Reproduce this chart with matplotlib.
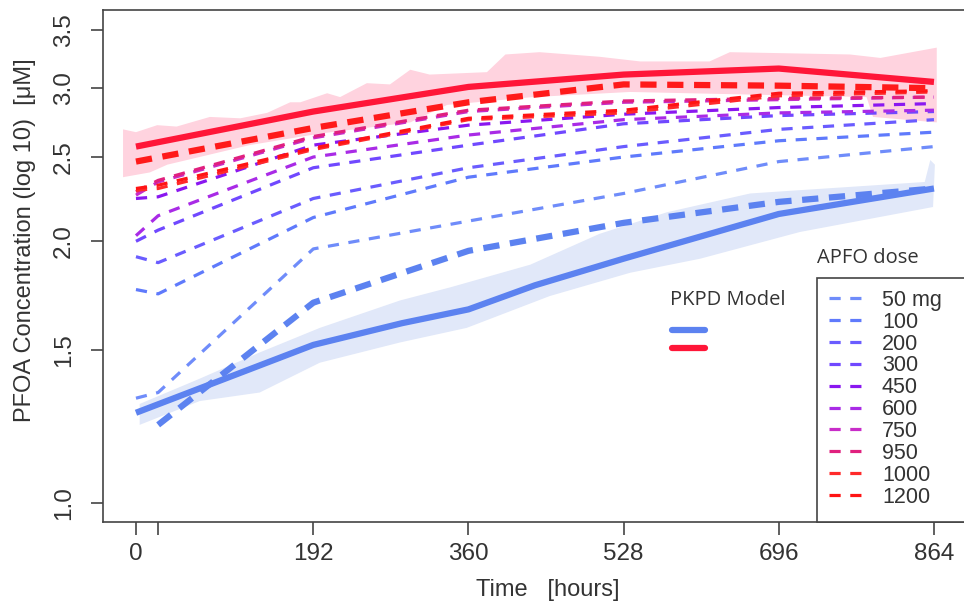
import numpy as np
import matplotlib.pyplot as plt
from matplotlib.patches import Rectangle
from matplotlib.ticker import FixedLocator, NullLocator

plt.rcParams['font.family'] = ['Liberation Sans', 'DejaVu Sans']

# sampling times (hours) of the dose groups
hours = [0, 24, 192, 360, 528, 696, 864]

doses = ['50 mg', '100', '200', '300', '450', '600', '750', '950', '1000', '1200']
dose_colors = ['#6f8cfa', '#5f7afc', '#6a5cff', '#7048ff', '#8a17f0',
               '#a92be6', '#c82cc8', '#e0207e', '#ff2a2a', '#ff1414']

conc_50 = [1.32, 1.34, 1.96, 2.11, 2.27, 2.47, 2.57]
conc_100 = [1.76, 1.74, 2.13, 2.37, 2.50, 2.61, 2.67]
conc_200 = [1.92, 1.89, 2.24, 2.43, 2.57, 2.69, 2.76]
conc_300 = [2.00, 2.06, 2.43, 2.58, 2.73, 2.79, 2.82]
conc_450 = [2.24, 2.25, 2.58, 2.72, 2.80, 2.85, 2.88]
conc_600 = [2.03, 2.14, 2.50, 2.65, 2.76, 2.81, 2.83]
conc_750 = [2.26, 2.34, 2.63, 2.82, 2.89, 2.91, 2.93]
conc_950 = [2.28, 2.35, 2.64, 2.83, 2.90, 2.92, 2.93]
conc_1000 = [2.29, 2.30, 2.55, 2.76, 2.81, 2.94, 2.97]
conc_1200 = [2.30, 2.32, 2.56, 2.77, 2.83, 2.96, 2.98]

# thick dashed curves (low / high)
low_t = [24, 192, 360, 528, 696, 864]
low_obs = [1.23, 1.70, 1.95, 2.10, 2.22, 2.30]
high_t = [0, 192, 360, 528, 696, 864]
high_obs = [2.47, 2.70, 2.89, 3.03, 3.02, 3.00]

# PKPD model curves
model_low_t = [0, 192, 288, 360, 432, 528, 696, 864]
model_low = [1.27, 1.52, 1.61, 1.67, 1.78, 1.91, 2.15, 2.30]
model_high_t = [0, 192, 360, 528, 696, 864]
model_high = [2.57, 2.82, 3.01, 3.11, 3.16, 3.05]

# model bands
low_up_t = [4, 69, 134, 199, 286, 340, 427, 502, 575, 665, 719, 854, 860, 865]
low_up = [1.30, 1.39, 1.49, 1.59, 1.71, 1.77, 1.88, 2.04, 2.16, 2.27, 2.29, 2.34, 2.48, 2.45]
low_dn_t = [4, 69, 134, 199, 286, 358, 448, 535, 611, 719, 863]
low_dn = [1.23, 1.31, 1.34, 1.45, 1.53, 1.59, 1.73, 1.84, 1.91, 2.05, 2.19]

high_up_t = [-14, 0, 23, 44, 80, 113, 142, 167, 178, 207, 221, 250, 275, 297, 318,
             380, 400, 437, 502, 546, 621, 643, 773, 806, 867]
high_up = [2.69, 2.67, 2.72, 2.71, 2.78, 2.77, 2.81, 2.89, 2.89, 2.96, 2.93, 3.04, 3.03,
           3.15, 3.11, 3.13, 3.28, 3.30, 3.26, 3.22, 3.22, 3.30, 3.28, 3.25, 3.34]
high_dn_t = [-14, 15, 34, 55, 123, 199, 297, 337, 430, 535, 791, 798, 867]
high_dn = [2.37, 2.40, 2.45, 2.48, 2.58, 2.66, 2.74, 2.87, 2.93, 2.97, 2.93, 2.78, 2.74]

yticks = [1.0, 1.5, 2.0, 2.5, 3.0, 3.5]
xticks = [0, 24, 192, 360, 528, 696, 864]
xticklabels = ['0', '', '192', '360', '528', '696', '864']

dose_conc = [conc_50, conc_100, conc_200, conc_300, conc_450,
             conc_600, conc_750, conc_950, conc_1000, conc_1200]

fig = plt.figure(figsize=(9.64, 6.06), dpi=100)
ax = fig.add_axes([103 / 964, 1 - 522 / 606, 867 / 964, 512 / 606])
ax.set_yscale('log')

ax.fill(high_up_t + high_dn_t[::-1], high_up + high_dn[::-1], color='#ffd3df', lw=0, zorder=1)
ax.fill(low_up_t + low_dn_t[::-1], low_up + low_dn[::-1], color='#e1e8f9', lw=0, zorder=1)

handles = []
for lab, col, c in zip(doses, dose_colors, dose_conc):
    h, = ax.plot(hours, c, color=col, lw=2.3, ls=(0, (3.5, 3)), label=lab, zorder=3)
    handles.append(h)

ax.plot(low_t, low_obs, color='#5c82f0', lw=4.5, ls=(0, (2.6, 1.7)), zorder=4)
ax.plot(high_t, high_obs, color='#ff1a1a', lw=4.5, ls=(0, (2.6, 1.7)), zorder=4)
ax.plot(model_low_t, model_low, color='#5c82f0', lw=4.5, solid_capstyle='butt', zorder=5)
ax.plot(model_high_t, model_high, color='#ff1638', lw=4.5, solid_capstyle='butt', zorder=5)

ax.set_xlim(-35.7, 903)
ax.set_ylim(0.951, 3.69)

ax.xaxis.set_major_locator(FixedLocator(xticks))
ax.set_xticklabels(xticklabels)
ax.yaxis.set_major_locator(FixedLocator(yticks))
ax.yaxis.set_minor_locator(NullLocator())
ax.set_yticklabels(['%.1f' % v for v in yticks], rotation=90, va='center')
ax.tick_params(axis='both', direction='out', length=9, width=1.2, color='#444',
               labelsize=17.5, labelcolor='#333')
ax.tick_params(axis='x', pad=6)
ax.tick_params(axis='y', pad=11)
for s in ax.spines.values():
    s.set_color('#444')
    s.set_linewidth(1.2)

fig.text(25 / 964, 1 - 240 / 606, 'PFOA Concentration (log 10)  [\u03bcM]', rotation=90,
         ha='center', va='center', fontsize=17, color='#333')
fig.text(548 / 964, 1 - 590 / 606, 'Time   [hours]', ha='center', va='center',
         fontsize=17, color='#333')

# PKPD model key
ax.text(0.654, 0.4336, 'PKPD Model', transform=ax.transAxes, ha='left', va='center',
        fontsize=14.5, color='#333', family=['Open Sans', 'DejaVu Sans'])
ax.plot([0.656, 0.694], [0.375, 0.375], transform=ax.transAxes, color='#5c82f0', lw=4.5,
        solid_capstyle='round', clip_on=False)
ax.plot([0.656, 0.694], [0.340, 0.340], transform=ax.transAxes, color='#ff1638', lw=4.5,
        solid_capstyle='round', clip_on=False)

# dose legend: frame runs past the right edge and sits on the x axis
ax.text(0.8235, 0.5156, 'APFO dose', transform=ax.transAxes, ha='left', va='center',
        fontsize=14.5, color='#333', family=['Open Sans', 'DejaVu Sans'])
ax.add_patch(Rectangle((0.8235, 0), 0.25, 0.4766, transform=ax.transAxes, facecolor='white',
                       edgecolor='#444', lw=1.2, clip_on=False, zorder=6))
leg = ax.legend(handles=handles, loc='upper left', bbox_to_anchor=(0.8235, 0.4766),
                fontsize=15.5, frameon=False, handlelength=1.63, handletextpad=0.84,
                borderpad=0.55, labelspacing=0.04, borderaxespad=0)
leg.set_zorder(7)
for t in leg.get_texts():
    t.set_color('#333')

fig.savefig('out.png', dpi=100)
